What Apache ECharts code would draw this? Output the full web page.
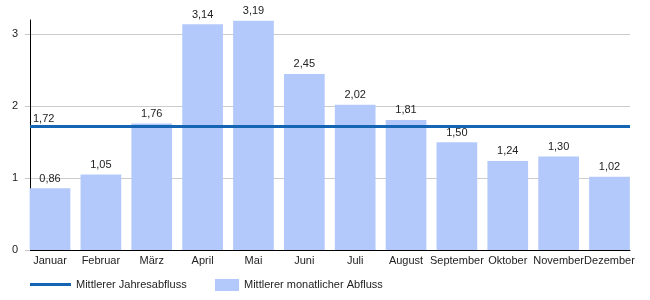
<!DOCTYPE html>
<html><head><meta charset="utf-8">
<script src="https://cdn.jsdelivr.net/npm/echarts@6/dist/echarts.min.js"></script>
<style>html,body{margin:0;padding:0;background:#fff}#c{width:650px;height:300px}</style>
</head><body><div id="c"></div>
<script>
const categories = ['Januar','Februar','März','April','Mai','Juni','Juli','August','September','Oktober','November','Dezember'];
const monthlyFlow = [0.86,1.05,1.76,3.14,3.19,2.45,2.02,1.81,1.50,1.24,1.30,1.02];
const annualFlow = 1.72;
const yTicks = [0,1,2,3];
const seriesNames = ['Mittlerer Jahresabfluss','Mittlerer monatlicher Abfluss'];

const fmt = v => Number(v).toFixed(2).replace('.', ',');
const font = 'Liberation Sans, Arial, sans-serif';
const chart = echarts.init(document.getElementById('c'));
chart.setOption({
  animation: false,
  textStyle: {fontFamily: font},
  grid: [
    {left: 30, right: 20, top: 20, bottom: 50},
    {left: 24.6, right: 15.1, top: 20, bottom: 50}
  ],
  legend: [
    {data: [{name: seriesNames[0], icon: 'rect'}], left: 25, top: 274, itemWidth: 41, itemHeight: 3,
     textStyle: {fontSize: 11, color: '#222', fontFamily: font}},
    {data: [{name: seriesNames[1], icon: 'rect'}], left: 210, top: 274, itemWidth: 24, itemHeight: 12,
     textStyle: {fontSize: 11, color: '#222', fontFamily: font}}
  ],
  xAxis: [
    {
      gridIndex: 0, type: 'category', data: categories,
      axisLine: {lineStyle: {color: '#000', width: 1}},
      axisTick: {show: false}, axisLabel: {show: false}, splitLine: {show: false}
    },
    {
      gridIndex: 1, type: 'category', data: categories,
      axisLine: {show: false}, axisTick: {show: false},
      axisLabel: {fontSize: 11, color: '#222', margin: 5, interval: 0, fontFamily: font}
    }
  ],
  yAxis: [
    {
      gridIndex: 0, type: 'value', min: 0, max: 3.2, interval: 1,
      axisLine: {show: true, lineStyle: {color: '#000', width: 1}},
      axisTick: {show: true, length: 5, lineStyle: {color: '#c8c8c8'}, customValues: yTicks},
      axisLabel: {fontSize: 11, color: '#222', margin: 12, customValues: yTicks, fontFamily: font},
      splitLine: {show: true, lineStyle: {color: ['#cccccc','#cccccc','#cccccc','#cccccc','rgba(0,0,0,0)'], width: 1}}
    },
    {
      gridIndex: 1, type: 'value', min: 0, max: 3.2, interval: 1, show: false,
      splitLine: {show: false}
    }
  ],
  series: [
    {
      name: seriesNames[0], type: 'line', data: [], symbol: 'none',
      xAxisIndex: 0, yAxisIndex: 0,
      color: '#1565b5', lineStyle: {width: 3, color: '#1565b5'},
      markLine: {
        silent: true, symbol: 'none',
        lineStyle: {type: 'solid', width: 3, color: '#1565b5'},
        label: {show: true, position: 'insideStartTop', formatter: () => fmt(annualFlow),
                fontSize: 11, color: '#222', distance: [3, 2], fontFamily: font},
        data: [{yAxis: annualFlow}]
      },
      z: 5
    },
    {
      name: seriesNames[1], type: 'bar', data: monthlyFlow, barCategoryGap: '20%',
      xAxisIndex: 1, yAxisIndex: 1,
      itemStyle: {color: '#b3c9fb'},
      label: {show: true, position: 'top', distance: 4, formatter: p => fmt(p.value),
              fontSize: 11, color: '#222', fontFamily: font},
      z: 2
    }
  ]
});
</script></body></html>
